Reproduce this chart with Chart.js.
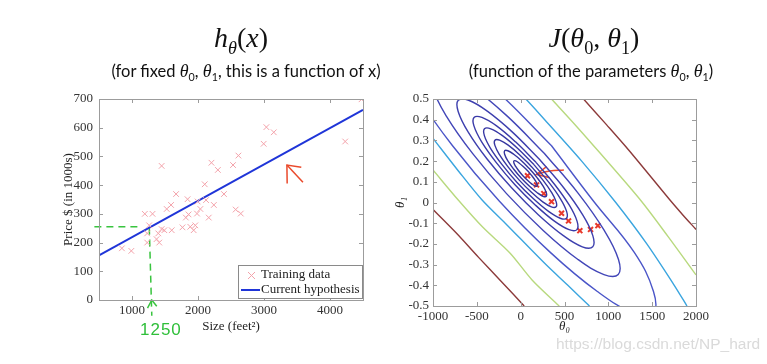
<!DOCTYPE html>
<html>
<head>
<meta charset="utf-8">
<script src="https://cdn.jsdelivr.net/npm/chart.js@4.4.0/dist/chart.umd.min.js"></script>
<style>
  body { margin: 0; width: 767px; height: 364px; background: #fff; position: relative; overflow: hidden; }
  canvas { position: absolute; top: 0; }
  .t { position: absolute; white-space: nowrap; transform: translateX(-50%); color: #111; z-index: 2; }
  .math { font-family: 'Liberation Serif', serif; }
  .sub { font-family: 'Lato', sans-serif; font-size: 16.5px; }
  .sub i { font-family: 'Liberation Serif', serif; font-size: 18px; }
  sub { font-size: 65%; font-style: normal; }
</style>
</head>
<body>
<div class="t math" style="left:241px;top:22px;font-size:28px"><i>h</i><sub><i>θ</i></sub>(<i>x</i>)</div>
<div class="t math" style="left:594px;top:22px;font-size:28px"><i>J</i>(<i>θ</i><sub>0</sub>, <i>θ</i><sub>1</sub>)</div>
<div class="t sub" style="left:246px;top:61px">(for fixed <i>θ</i><sub>0</sub>, <i>θ</i><sub>1</sub>, this is a function of x)</div>
<div class="t sub" style="left:591px;top:61px">(function of the parameters <i>θ</i><sub>0</sub>, <i>θ</i><sub>1</sub>)</div>
<div style="position:absolute;left:140px;top:320px;font:17px 'Liberation Sans',sans-serif;color:#2fbf3a;letter-spacing:1px;z-index:2">1250</div>
<div style="position:absolute;left:556px;top:335px;font:15.5px 'Liberation Sans',sans-serif;color:#dadada;z-index:2">https://blog.csdn.net/NP_hard</div>
<canvas id="hChart" width="383" height="364" style="left:0"></canvas>
<canvas id="jChart" width="384" height="364" style="left:383px"></canvas>
<script>
// left: training set and current hypothesis
const sizeTicks = [1000, 2000, 3000, 4000];
const priceTicks = [0, 100, 200, 300, 400, 500, 600, 700];
const trainSize = [847, 990, 1194, 1311, 1260, 1230, 1230, 1372, 1413, 1398, 1449, 1490, 1449, 1526, 1592,
  1602, 1668, 1765, 1816, 1842, 1857, 1883, 1934, 1959, 1985, 1995, 2036, 2102, 2122, 2163, 2204, 2240,
  2301, 2393, 2531, 2571, 2612, 2648, 2995, 3036, 3148, 4230, 4478];
const trainPrice = [180, 171, 300, 300, 260, 232, 200, 212, 200, 232, 247, 243, 467, 317, 331,
  243, 369, 253, 287, 351, 298, 255, 243, 260, 301, 343, 317, 403, 348, 287, 478, 331,
  453, 369, 470, 315, 503, 301, 544, 602, 584, 552, 699];
const hypSize = [500, 4500];
const hypPrice = [155, 662];
// hand-drawn marks on the slide
const greenGuideH = [[430, 255], [1150, 255]];
const greenGuideV = [[1262, 252], [1300, -55]];
const greenArrowUp = [[1235, -28], [1300, 0], [1375, -22]];
const redArrowLeft = [[3590, 410], [3347, 470]];
const redArrowLeftHead = [[3565, 462], [3347, 470], [3351, 406]];

// right: cost contours J(theta0, theta1)
const theta0Ticks = [-1000, -500, 0, 500, 1000, 1500, 2000];
const theta1Ticks = [-0.5, -0.4, -0.3, -0.2, -0.1, 0, 0.1, 0.2, 0.3, 0.4, 0.5];
const ring1 = [[82,.152],[29,.174],[-19,.191],[-56,.201],[-77,.201],[-77,.191],[-57,.174],[-20,.152],[28,.128],[81,.106],[129,.089],[166,.079],[187,.079],[187,.089],[167,.106],[130,.128]];
const ring2 = [[104,.162],[9,.202],[-79,.233],[-146,.250],[-183,.250],[-183,.233],[-148,.202],[-81,.162],[6,.118],[101,.078],[189,.047],[256,.030],[293,.030],[293,.047],[258,.078],[191,.118]];
const ring3 = [[126,.172],[-13,.231],[-142,.277],[-240,.301],[-294,.301],[-295,.277],[-242,.231],[-144,.172],[-16,.108],[123,.049],[252,.003],[350,-.021],[404,-.021],[405,.003],[352,.049],[254,.108]];
const ring4 = [[151,.183],[-36,.262],[-208,.323],[-341,.356],[-413,.356],[-414,.323],[-344,.262],[-212,.183],[-41,.097],[146,.018],[318,-.043],[451,-.076],[523,-.076],[524,-.043],[454,.018],[322,.097]];
const ring5 = [[175,.194],[-59,.293],[-275,.370],[-442,.411],[-532,.411],[-533,.370],[-445,.293],[-280,.194],[-65,.086],[169,-.013],[385,-.090],[552,-.131],[642,-.131],[643,-.090],[555,-.013],[390,.086]];
const ring6 = [[211,.210],[-94,.340],[-377,.440],[-593,.494],[-712,.494],[-713,.440],[-598,.340],[-383,.210],[-101,.070],[204,-.060],[487,-.160],[703,-.214],[822,-.214],[823,-.160],[708,-.060],[493,.070]];
const ring7 = [[271,.237],[-150,.416],[-540,.554],[-840,.628],[-1003,.628],[-1005,.554],[-846,.416],[-549,.237],[-161,.043],[260,-.136],[650,-.274],[950,-.348],[1113,-.348],[1115,-.274],[955,-.136],[659,.043]];
const ring8 = [[352,.274],[-228,.521],[-765,.710],[-1178,.813],[-1403,.813],[-1405,.710],[-1186,.521],[-777,.274],[-242,.006],[338,-.241],[875,-.430],[1288,-.533],[1513,-.533],[1515,-.430],[1296,-.241],[832,.006]];
const cyanLow = [[-1000,.31],[-706,.15],[-440,.012],[-176,-.1],[288,-.3],[538,-.4],[785,-.5]];
const cyanHigh = [[60,.5],[274,.4],[696,.2],[1085,0],[1439,-.2],[1752,-.4],[1897,-.5]];
const greenLow = [[-1000,.157],[-712,.012],[-431,-.12],[-120,-.245],[130,-.374],[440,-.5]];
const greenHigh = [[352,.5],[633,.37],[903,.24],[1366,.012],[1682,-.165],[2000,-.35]];
const maroonLow = [[-1000,-.034],[-729,-.15],[-480,-.265],[-213,-.385],[40,-.5]];
const maroonHigh = [[717,.5],[981,.375],[1239,.25],[1703,.012],[1850,-.06],[2000,-.13]];
const descentTheta0 = [78, 181, 264, 352, 466, 546, 675, 797, 881];
const descentTheta1 = [0.129, 0.085, 0.043, 0.004, -0.052, -0.089, -0.136, -0.130, -0.112];
const redArrowRight = [[493, .157], [330, .152], [181, .136]];
const redArrowRightHead = [[295, .173], [181, .136], [333, .12]];

Chart.defaults.font.family = "'Liberation Serif', serif";
Chart.defaults.font.size = 13;
Chart.defaults.color = '#333';
Chart.defaults.animation = false;

const pts = arr => arr.map(p => ({ x: p[0], y: p[1] }));

// MATLAB style frame with inward ticks
const frame = {
  id: 'frame',
  afterDraw(chart) {
    const { ctx, chartArea: a, scales } = chart;
    ctx.save();
    ctx.strokeStyle = '#9c9c9c';
    ctx.lineWidth = 1;
    ctx.strokeRect(Math.round(a.left) + 0.5, Math.round(a.top) + 0.5, Math.round(a.width), Math.round(a.height));
    ctx.beginPath();
    scales.x.ticks.forEach((t, i) => {
      const p = Math.round(scales.x.getPixelForTick(i)) + 0.5;
      ctx.moveTo(p, a.bottom); ctx.lineTo(p, a.bottom - 4);
      ctx.moveTo(p, a.top); ctx.lineTo(p, a.top + 4);
    });
    scales.y.ticks.forEach((t, i) => {
      const p = Math.round(scales.y.getPixelForTick(i)) + 0.5;
      ctx.moveTo(a.left, p); ctx.lineTo(a.left + 4, p);
      ctx.moveTo(a.right, p); ctx.lineTo(a.right - 4, p);
    });
    ctx.stroke();
    ctx.restore();
  }
};

const boxLegend = {
  id: 'boxLegend',
  afterDraw(chart) {
    const { ctx, chartArea: a } = chart;
    const ds = chart.data.datasets;
    const x0 = a.right - 125, y0 = a.bottom - 35;
    ctx.save();
    ctx.fillStyle = '#fff';
    ctx.fillRect(x0, y0, 124, 33);
    ctx.strokeStyle = '#8a8a8a';
    ctx.lineWidth = 1;
    ctx.strokeRect(x0 + 0.5, y0 + 0.5, 124, 33);
    ctx.strokeStyle = ds[0].borderColor;
    ctx.beginPath();
    ctx.moveTo(x0 + 10, y0 + 7); ctx.lineTo(x0 + 17, y0 + 14);
    ctx.moveTo(x0 + 17, y0 + 7); ctx.lineTo(x0 + 10, y0 + 14);
    ctx.stroke();
    ctx.strokeStyle = ds[1].borderColor;
    ctx.lineWidth = 2;
    ctx.beginPath();
    ctx.moveTo(x0 + 3, y0 + 25); ctx.lineTo(x0 + 22, y0 + 25);
    ctx.stroke();
    ctx.fillStyle = '#222';
    ctx.font = "13px 'Liberation Serif', serif";
    ctx.textBaseline = 'middle';
    ctx.fillText(ds[0].label, x0 + 23, y0 + 10);
    ctx.fillText(ds[1].label, x0 + 23, y0 + 25);
    ctx.restore();
  }
};

const line = (data, color, extra) => Object.assign({
  data: pts(data), showLine: true, pointRadius: 0, borderColor: color, borderWidth: 1.5, fill: false
}, extra || {});

const plainGrid = { display: false, drawTicks: false, tickLength: 0 };

new Chart(document.getElementById('hChart'), {
  type: 'scatter',
  data: {
    datasets: [
      {
        label: 'Training data',
        data: trainSize.map((s, i) => ({ x: s, y: trainPrice[i] })),
        pointStyle: 'crossRot', pointRadius: 4, borderColor: '#f3a2aa', borderWidth: 1
      },
      {
        label: 'Current hypothesis',
        data: hypSize.map((s, i) => ({ x: s, y: hypPrice[i] })),
        showLine: true, pointRadius: 0, borderColor: '#1f35d8', borderWidth: 2
      },
      line(greenGuideH, '#39c43f', { borderDash: [7, 5], clip: false }),
      line(greenGuideV, '#39c43f', { borderDash: [7, 5], clip: false }),
      line(greenArrowUp, '#39c43f', { clip: false }),
      line(redArrowLeft, '#ea4a2c'),
      line(redArrowLeftHead, '#ea4a2c')
    ]
  },
  options: {
    responsive: false,
    layout: { padding: { top: 99, left: 57, right: 20, bottom: 26 } },
    plugins: { legend: { display: false }, tooltip: { enabled: false } },
    scales: {
      x: {
        type: 'linear', min: 500, max: 4500,
        afterBuildTicks: s => { s.ticks = sizeTicks.map(v => ({ value: v })); },
        afterFit: s => { s.height = 38; },
        grid: plainGrid,
        border: { display: false },
        ticks: { padding: 3, callback: v => String(v) },
        title: { display: true, text: 'Size (feet²)', font: { size: 13 }, color: '#222' }
      },
      y: {
        type: 'linear', min: 0, max: 700,
        afterBuildTicks: s => { s.ticks = priceTicks.map(v => ({ value: v })); },
        afterFit: s => { s.width = 42; },
        grid: plainGrid,
        border: { display: false },
        ticks: { padding: 6, callback: v => String(v) },
        title: { display: true, text: 'Price $ (in 1000s)', font: { size: 13 }, color: '#222' }
      }
    }
  },
  plugins: [frame, boxLegend]
});

const rings = [ring1, ring2, ring3, ring4, ring5, ring6, ring7, ring8];
const ringColors = ['#34349a', '#34349c', '#3737a0', '#3838a4', '#3a3aa8', '#3d3fae', '#4246b8', '#4a55c8'];
const contourSets = rings.map((r, i) => line(r.concat([r[0]]), ringColors[i], { tension: 0.4, borderWidth: 1.4 }));
[[cyanLow, '#3aa5df'], [cyanHigh, '#3aa5df'], [greenLow, '#b8d97e'], [greenHigh, '#b8d97e'],
 [maroonLow, '#8c3a3a'], [maroonHigh, '#8c3a3a']].forEach(([d, c]) => {
  contourSets.push(line(d, c, { tension: 0.3, borderWidth: 1.4 }));
});

new Chart(document.getElementById('jChart'), {
  type: 'scatter',
  data: {
    datasets: contourSets.concat([
      {
        data: descentTheta0.map((t, i) => ({ x: t, y: descentTheta1[i] })),
        pointStyle: 'crossRot', pointRadius: 3.5, borderColor: '#e8392b', borderWidth: 2
      },
      line(redArrowRight, '#ea4a2c', { tension: 0.4 }),
      line(redArrowRightHead, '#ea4a2c')
    ])
  },
  options: {
    responsive: false,
    layout: { padding: { top: 99, left: 6, right: 71, bottom: 26 } },
    plugins: { legend: { display: false }, tooltip: { enabled: false } },
    scales: {
      x: {
        type: 'linear', min: -1000, max: 2000,
        afterBuildTicks: s => { s.ticks = theta0Ticks.map(v => ({ value: v })); },
        afterFit: s => { s.height = 32; },
        grid: plainGrid,
        border: { display: false },
        ticks: { padding: 3, callback: v => String(v) },
        title: { display: true, text: 'θ₀', font: { size: 13, style: 'italic' }, color: '#222' }
      },
      y: {
        type: 'linear', min: -0.5, max: 0.5,
        afterBuildTicks: s => { s.ticks = theta1Ticks.map(v => ({ value: v })); },
        afterFit: s => { s.width = 44; },
        grid: plainGrid,
        border: { display: false },
        ticks: { padding: 4, callback: v => String(Math.round(v * 10) / 10) },
        title: { display: true, text: 'θ₁', font: { size: 13, style: 'italic' }, color: '#222' }
      }
    }
  },
  plugins: [frame]
});
</script>
</body>
</html>
